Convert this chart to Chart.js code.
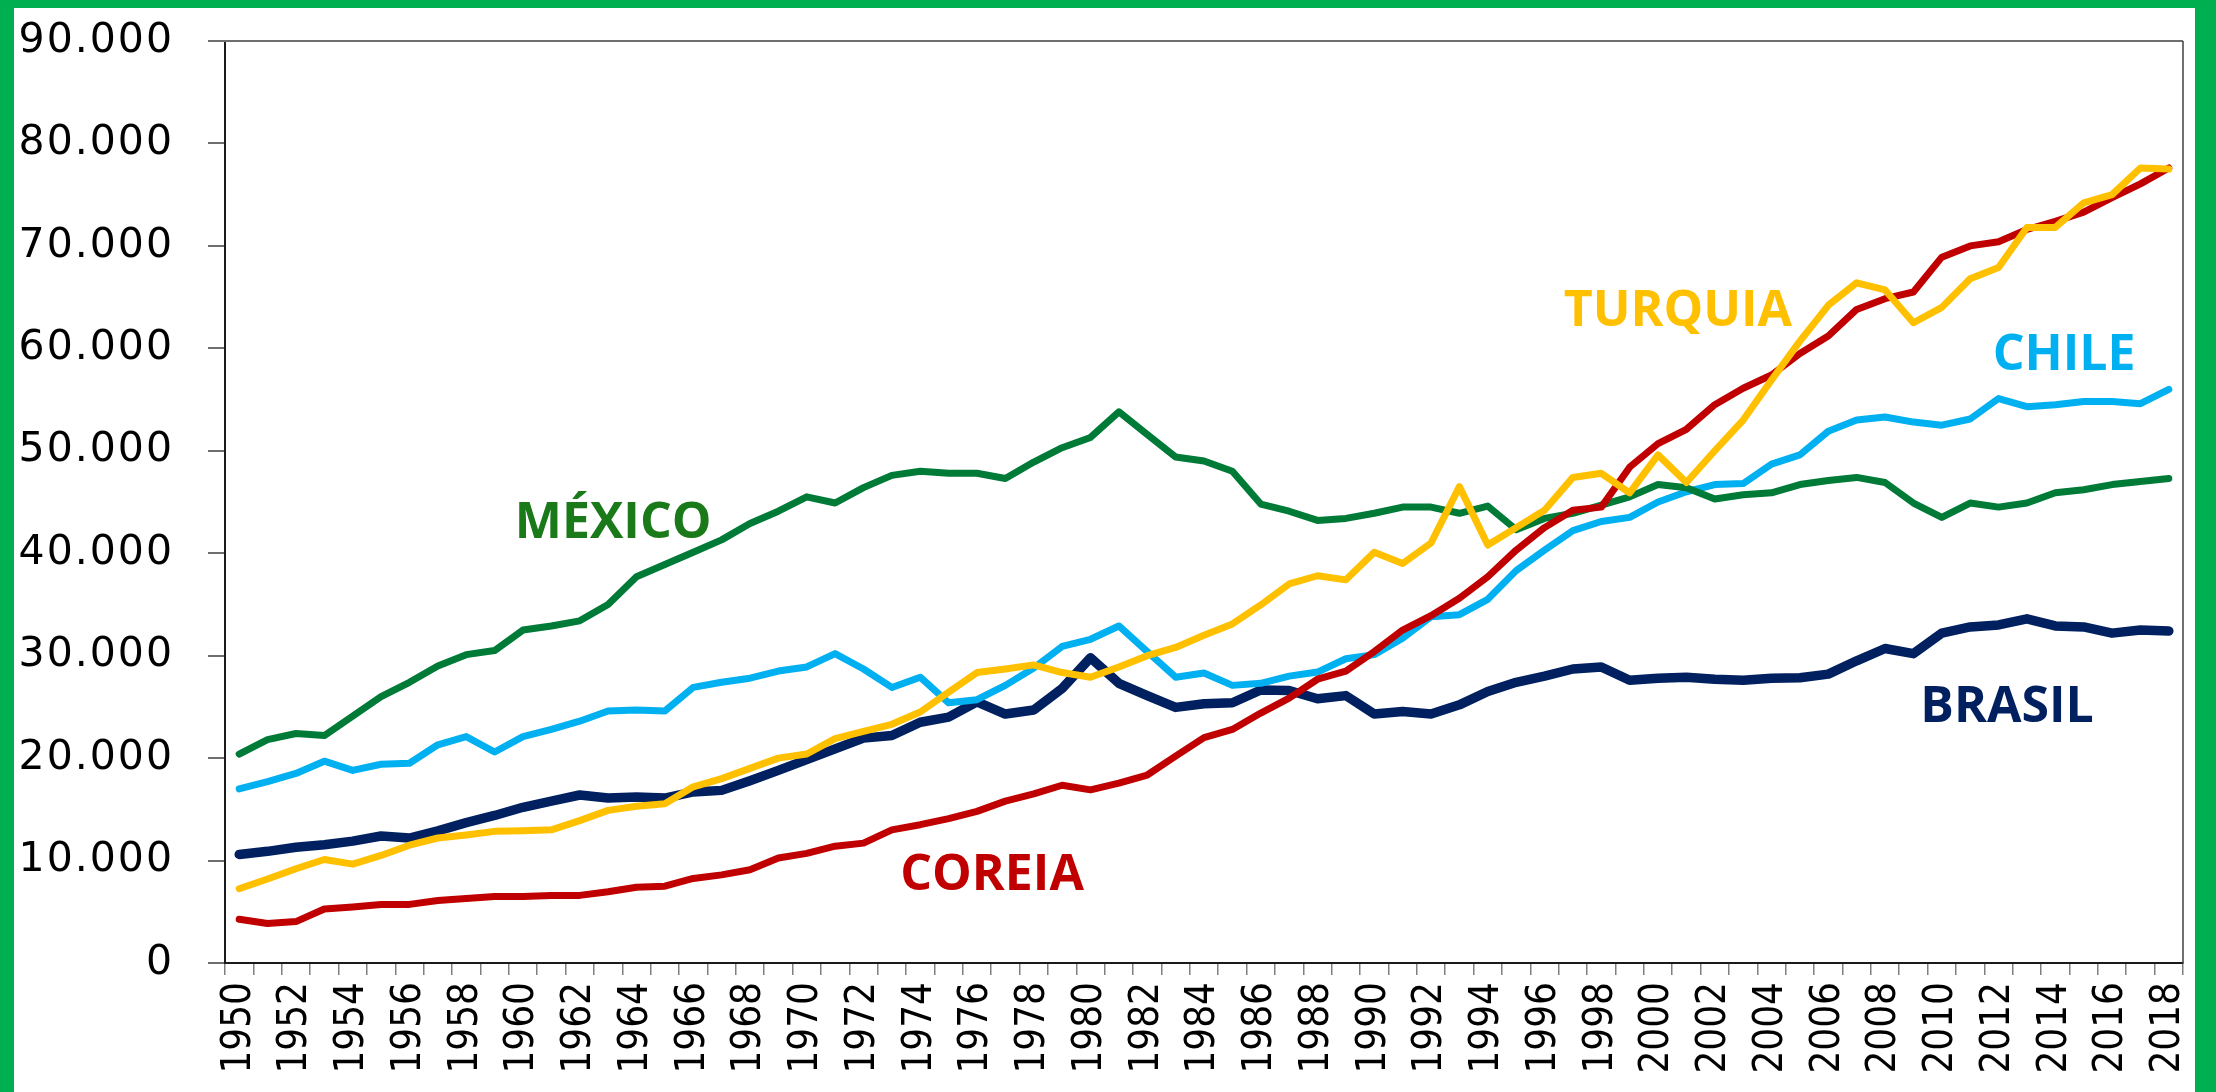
<!DOCTYPE html>
<html>
<head>
<meta charset="utf-8">
<script src="https://cdn.jsdelivr.net/npm/chart.js@4.4.1/dist/chart.umd.min.js"></script>
<style>
  html, body { margin: 0; padding: 0; background: #fff; }
  #frame {
    position: relative;
    width: 2216px;
    height: 1092px;
    box-sizing: border-box;
    background: #00b050;
    overflow: hidden;
  }
  #chart {
    position: absolute;
    left: 14px;
    top: 8px;
    background: #fff;
  }
</style>
</head>
<body>
<div id="frame">
  <canvas id="chart" width="2181" height="1084"></canvas>
</div>
<script>
// anos 1950..2018
const anos = [];
for (let a = 1950; a <= 2018; a += 1) anos.push(String(a));

// valores
const mexico = [20400, 21800, 22400, 22200, 24100, 26000, 27400, 29000, 30100, 30500,
  32500, 32900, 33400, 35000, 37700, 38900, 40100, 41300, 42900, 44100,
  45500, 44900, 46400, 47600, 48000, 47800, 47800, 47300, 48900, 50300,
  51300, 53800, 51600, 49400, 49000, 48000, 44800, 44100, 43200, 43400,
  43900, 44500, 44500, 43900, 44600, 42300, 43400, 43900, 44700, 45500,
  46700, 46400, 45300, 45700, 45900, 46700, 47100, 47400, 46900, 44900,
  43500, 44900, 44500, 44900, 45900, 46200, 46700, 47000, 47300];
const chile = [17000, 17700, 18500, 19700, 18800, 19400, 19500, 21300, 22100, 20600,
  22100, 22800, 23600, 24600, 24700, 24600, 26900, 27400, 27800, 28500,
  28900, 30200, 28700, 26900, 27900, 25400, 25700, 27100, 28800, 30900,
  31600, 32900, 30400, 27900, 28300, 27100, 27300, 28000, 28400, 29700,
  30100, 31700, 33800, 34000, 35500, 38300, 40300, 42200, 43100, 43500,
  45000, 46000, 46700, 46800, 48700, 49600, 51900, 53000, 53300, 52800,
  52500, 53100, 55100, 54300, 54500, 54800, 54800, 54600, 56000];
const turquia = [7250, 8200, 9200, 10100, 9650, 10500, 11500, 12200, 12500, 12850,
  12900, 13000, 13900, 14900, 15300, 15550, 17200, 18000, 19000, 20000,
  20400, 21900, 22600, 23300, 24500, 26450, 28350, 28700, 29100, 28350,
  27900, 28900, 30000, 30800, 32000, 33100, 34950, 37000, 37800, 37400,
  40100, 39000, 41000, 46500, 40800, 42500, 44200, 47400, 47800, 45900,
  49600, 46900, 50000, 53000, 56900, 60700, 64200, 66400, 65700, 62500,
  64000, 66800, 67900, 71800, 71800, 74200, 75000, 77600, 77500];
const coreia = [4270, 3860, 4040, 5270, 5470, 5720, 5720, 6100, 6300, 6500,
  6500, 6600, 6600, 6950, 7400, 7500, 8250, 8600, 9100, 10250,
  10700, 11400, 11700, 13000, 13500, 14100, 14800, 15800, 16500, 17350,
  16900, 17550, 18350, 20200, 22000, 22800, 24400, 25850, 27700, 28500,
  30400, 32500, 33900, 35600, 37700, 40300, 42500, 44200, 44500, 48400,
  50700, 52100, 54500, 56100, 57400, 59500, 61200, 63800, 64850, 65500,
  68900, 70000, 70400, 71600, 72400, 73300, 74700, 76050, 77600];
const brasil = [10600, 10900, 11300, 11550, 11900, 12400, 12200, 12900, 13700, 14400,
  15200, 15800, 16400, 16100, 16200, 16100, 16700, 16850, 17800, 18800,
  19850, 20900, 21950, 22200, 23500, 24000, 25500, 24300, 24700, 26800,
  29800, 27300, 26100, 24950, 25300, 25400, 26650, 26600, 25800, 26100,
  24300, 24550, 24300, 25200, 26500, 27400, 28000, 28700, 28900, 27600,
  27800, 27900, 27700, 27600, 27800, 27850, 28200, 29500, 30700, 30200,
  32200, 32800, 33000, 33600, 32900, 32800, 32200, 32500, 32400];

// rótulos dos países (posição em índice do ano e valor)
const rotulos = [
  { texto: 'MÉXICO', cor: '#1a7a1a', idx: 13.18, valor: 43200 },
  { texto: 'COREIA', cor: '#c00000', idx: 26.53, valor: 8880 },
  { texto: 'TURQUIA', cor: '#ffc000', idx: 50.7, valor: 63900 },
  { texto: 'CHILE', cor: '#00b0f0', idx: 64.31, valor: 59600 },
  { texto: 'BRASIL', cor: '#002060', idx: 62.3, valor: 25300 },
];

const serie = (label, data, cor, largura) => ({
  label,
  data,
  borderColor: cor,
  backgroundColor: cor,
  borderWidth: largura,
  pointRadius: 0,
  pointHoverRadius: 0,
  tension: 0,
  borderJoinStyle: 'round',
  borderCapStyle: 'round',
  fill: false,
});

const formatoBR = (v) => String(v).replace(/\B(?=(\d{3})+(?!\d))/g, '.');

// moldura do gráfico + rótulos de texto
const extras = {
  id: 'extras',
  beforeDatasetsDraw(chart) {
    const { ctx, chartArea: a } = chart;
    ctx.save();
    ctx.strokeStyle = '#6e6e6e';
    ctx.lineWidth = 2;
    ctx.beginPath();
    ctx.moveTo(a.left - 17, a.top);
    ctx.lineTo(a.right, a.top);
    ctx.stroke();
    ctx.strokeStyle = '#404040';
    ctx.lineWidth = 1.5;
    ctx.beginPath();
    ctx.moveTo(a.right, a.top);
    ctx.lineTo(a.right, a.bottom);
    ctx.stroke();
    ctx.restore();
  },
  afterDatasetsDraw(chart) {
    const { ctx } = chart;
    const x = chart.scales.x;
    const y = chart.scales.y;
    ctx.save();
    ctx.font = 'bold 50px "Open Sans", "Noto Sans", sans-serif';
    ctx.textAlign = 'center';
    ctx.textBaseline = 'alphabetic';
    rotulos.forEach((r) => {
      ctx.fillStyle = r.cor;
      ctx.fillText(r.texto, x.getPixelForValue(r.idx), y.getPixelForValue(r.valor) + 18);
    });
    ctx.restore();
    // rótulos do eixo y (z: 1) saem mais largos, como no original
    ctx.letterSpacing = '2px';
  },
  afterDraw(chart) {
    chart.ctx.letterSpacing = '0px';
  },
};

Chart.defaults.animation = false;

new Chart(document.getElementById('chart'), {
  type: 'line',
  data: {
    labels: anos,
    datasets: [
      serie('TURQUIA', turquia, '#ffc000', 7),
      serie('COREIA', coreia, '#c00000', 7),
      serie('MÉXICO', mexico, '#007a37', 7),
      serie('CHILE', chile, '#00b0f0', 7),
      serie('BRASIL', brasil, '#002060', 9.5),
    ],
  },
  options: {
    responsive: false,
    animation: false,
    layout: { padding: { top: 33, right: 12, left: 0, bottom: 0 } },
    plugins: {
      legend: { display: false },
      tooltip: { enabled: false },
      title: { display: false },
    },
    scales: {
      x: {
        type: 'category',
        offset: true,
        afterFit(scale) {
          scale.height = 129;
          scale.paddingLeft = 0;
          scale.paddingRight = 0;
        },
        grid: {
          display: true,
          drawOnChartArea: false,
          drawTicks: true,
          tickLength: 12,
          color: '#7f7f7f',
          lineWidth: 1.5,
          offset: true,
        },
        border: { display: true, color: '#1a1a1a', width: 2 },
        ticks: {
          autoSkip: false,
          minRotation: 90,
          maxRotation: 90,
          padding: 7,
          color: '#000',
          font: { family: '"Liberation Sans Narrow", "DejaVu Sans Condensed", "Liberation Sans", Arial, sans-serif', size: 40 },
          callback(val, i) { return i % 2 === 0 ? anos[i] : ''; },
        },
      },
      y: {
        min: 0,
        max: 90000,
        afterFit(scale) {
          scale.width = 211;
          scale.paddingTop = 0;
          scale.paddingBottom = 0;
        },
        grid: {
          display: true,
          drawOnChartArea: false,
          drawTicks: true,
          tickLength: 17,
          color: '#6e6e6e',
          lineWidth: 2,
        },
        border: { display: true, color: '#1a1a1a', width: 2 },
        ticks: {
          z: 1,
          stepSize: 10000,
          padding: 34,
          color: '#000',
          font: { family: '"DejaVu Sans", Verdana, sans-serif', size: 41 },
          callback(v) { return formatoBR(v); },
        },
      },
    },
  },
  plugins: [extras],
});
</script>
</body>
</html>
